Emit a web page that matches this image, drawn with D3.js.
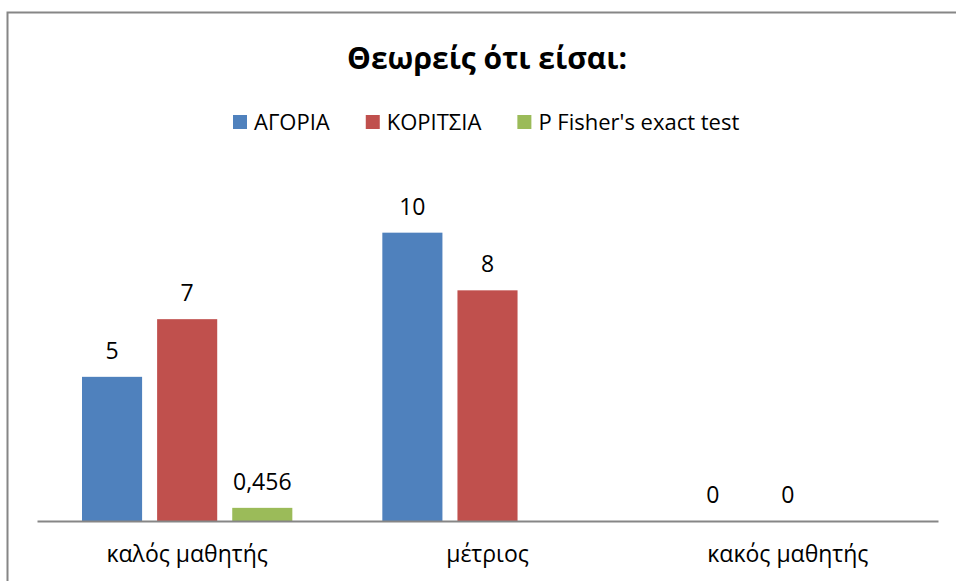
<!DOCTYPE html>
<html>
<head>
<meta charset="utf-8">
<script src="https://cdn.jsdelivr.net/npm/d3@7"></script>
<style>
  body { margin: 0; background: #fff; }
  text { font-family: "Open Sans", "Noto Sans", sans-serif; fill: #000; }
</style>
</head>
<body>
<div id="chart"></div>
<script>
// categories and series
const categories = ["καλός μαθητής", "μέτριος", "κακός μαθητής"];
const seriesNames = ["ΑΓΟΡΙΑ", "ΚΟΡΙΤΣΙΑ", "P Fisher's exact test"];
const boys = [5, 10, 0];
const girls = [7, 8, 0];
const fisher = [0.456, null, null];
const colors = ["#4f81bd", "#c0504d", "#9bbb59"];

const width = 956;
const height = 581;
const margin = { top: 175, bottom: 60, left: 37, right: 18 };

const svg = d3.select("#chart")
  .append("svg")
  .attr("width", width)
  .attr("height", height);

// chart border (right and bottom edges run off the picture)
svg.append("rect")
  .attr("x", 7.5).attr("y", 12.5)
  .attr("width", 1000).attr("height", 700)
  .attr("fill", "none")
  .attr("stroke", "#868686")
  .attr("stroke-width", 2);

const x0 = d3.scaleBand()
  .domain(categories)
  .range([margin.left, width - margin.right])
  .paddingInner(0)
  .paddingOuter(0);

const x1 = d3.scaleBand()
  .domain(d3.range(seriesNames.length))
  .range([45, x0.bandwidth() - 45])
  .paddingInner(0.2)
  .paddingOuter(0);

const y = d3.scaleLinear()
  .domain([0, 12])
  .range([height - margin.bottom, margin.top]);

const allSeries = [boys, girls, fisher];
const fmt = v => String(v).replace(".", ",");

const groups = svg.append("g")
  .selectAll("g")
  .data(categories)
  .join("g")
  .attr("transform", d => `translate(${x0(d)},0)`);

groups.selectAll("rect")
  .data((c, ci) => allSeries.map((s, si) => ({ si, v: s[ci] })).filter(d => d.v != null))
  .join("rect")
  .attr("x", d => x1(d.si))
  .attr("y", d => y(d.v))
  .attr("width", x1.bandwidth())
  .attr("height", d => y(0) - y(d.v))
  .attr("fill", d => colors[d.si]);

groups.selectAll("text")
  .data((c, ci) => allSeries.map((s, si) => ({ si, v: s[ci] })).filter(d => d.v != null))
  .join("text")
  .attr("x", d => x1(d.si) + x1.bandwidth() / 2)
  .attr("y", d => y(d.v) - 18)
  .attr("text-anchor", "middle")
  .attr("font-size", "23px")
  .text(d => fmt(d.v));

// x axis
const xAxis = svg.append("g")
  .attr("transform", `translate(0,${y(0)})`)
  .call(d3.axisBottom(x0).tickSize(0).tickPadding(25));
xAxis.select(".domain").attr("stroke", "#868686").attr("stroke-width", 2);
xAxis.selectAll("text")
  .attr("font-size", "23px")
  .attr("font-family", "'Open Sans', 'Noto Sans', sans-serif")
  .attr("fill", "#000");

// title
svg.append("text")
  .attr("x", 487)
  .attr("y", 69)
  .attr("text-anchor", "middle")
  .attr("font-size", "30px")
  .attr("font-weight", "bold")
  .text("Θεωρείς ότι είσαι:");

// legend
const legend = svg.append("g").attr("transform", "translate(0,122)");
let lx = 233;
seriesNames.forEach((name, i) => {
  const item = legend.append("g").attr("transform", `translate(${lx},0)`);
  item.append("rect")
    .attr("x", 0).attr("y", -7)
    .attr("width", 14).attr("height", 14)
    .attr("fill", colors[i]);
  const t = item.append("text")
    .attr("x", 21).attr("y", 8)
    .attr("font-size", "22px")
    .text(name);
  lx += 21 + t.node().getComputedTextLength() + 36;
});
</script>
</body>
</html>
